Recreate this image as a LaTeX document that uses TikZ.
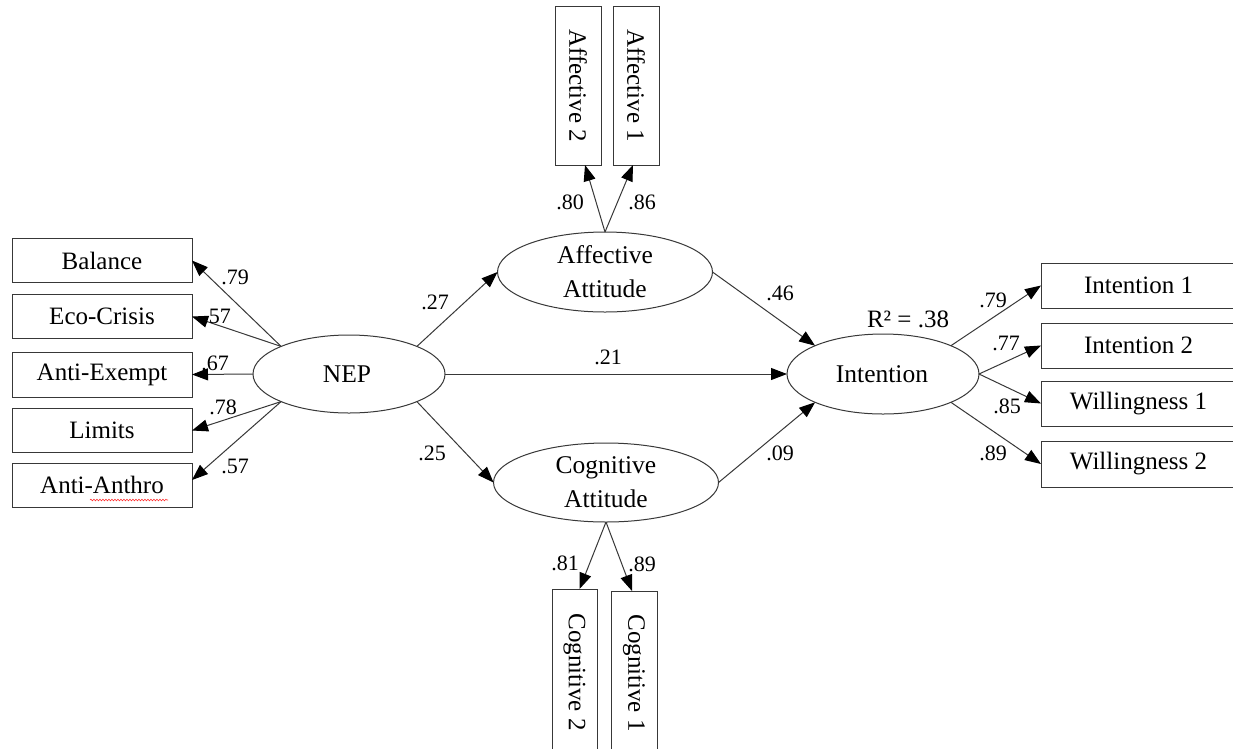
\documentclass[tikz,border=0pt]{standalone}
\usepackage{fontspec}
\setmainfont{Liberation Serif}
\usetikzlibrary{arrows.meta,shapes.geometric,calc,decorations.pathmorphing}
\begin{document}
\begin{tikzpicture}[x=1pt,y=-1pt,
  line/.style={draw=black!78, line width=1pt},
  arr/.style={line, -{Triangle[length=16pt,width=12pt,color=black,fill=black]}},
  obs/.style={draw=black!78, line width=1pt, rectangle, inner sep=0pt, outer sep=0pt, font=\fontsize{25}{30}\selectfont},
  lat/.style={draw=black!78, line width=1pt, ellipse, inner sep=0pt, outer sep=0pt},
  lattext/.style={align=center, font=\fontsize{25.5}{34}\selectfont, inner sep=0pt},
  coef/.style={font=\fontsize{22}{26}\selectfont, inner sep=0pt},
]
\useasboundingbox (0,0) rectangle (1233,748);
\fill[white] (0,0) rectangle (1233,748);
\clip (0,0) rectangle (1233,748);

% latent variables
\node[lat, minimum width=192pt, minimum height=78pt] (nep) at (349,374) {};
\node[lattext] (nepT) at (347,374) {NEP};
\node[lat, minimum width=215pt, minimum height=80pt] (aff) at (605,272) {};
\node[lattext] (affT) at (605,272) {Affective\\Attitude};
\node[lat, minimum width=225pt, minimum height=79pt] (cog) at (606,482.5) {};
\node[lattext] (cogT) at (606,482.5) {Cognitive\\Attitude};
\node[lat, minimum width=192pt, minimum height=80pt] (int) at (883,374) {};
\node[lattext] (intT) at (882,374) {Intention};

% left indicators
\node[obs, minimum width=180pt, minimum height=44pt] (bal) at (102,260.5) {Balance};
\node[obs, minimum width=180pt, minimum height=44pt] (eco) at (102,316.5) {Eco-Crisis};
\node[obs, minimum width=180pt, minimum height=45pt] (ae) at (102,374.5) {Anti-Exempt};
\node[obs, minimum width=180pt, minimum height=44pt] (lim) at (102,430.5) {Limits};
\node[obs, minimum width=180pt, minimum height=44pt] (aa) at (102,485) {Anti-Anthro};
\draw[red!80, line width=0.6pt, decorate, decoration={snake, amplitude=0.8pt, segment length=3pt}] (90,500) -- (168,500);

% top indicators
\node[obs, minimum width=46pt, minimum height=159pt] (aff2) at (578,85.5) {\rotatebox{-90}{Affective 2}};
\node[obs, minimum width=46pt, minimum height=159pt] (aff1) at (636,85.5) {\rotatebox{-90}{Affective 1}};

% bottom indicators
\node[obs, minimum width=45pt, minimum height=166pt] (cog2) at (574.5,672) {\rotatebox{-90}{Cognitive 2}};
\node[obs, minimum width=46pt, minimum height=164pt] (cog1) at (634,673) {\rotatebox{-90}{Cognitive 1}};

% right indicators
\node[obs, minimum width=195pt, minimum height=45pt] (int1) at (1138.5,285.5) {Intention 1};
\node[obs, minimum width=195pt, minimum height=45pt] (int2) at (1138.5,345.5) {Intention 2};
\node[obs, minimum width=195pt, minimum height=45pt] (will1) at (1138.5,403.5) {Willingness 1};
\node[obs, minimum width=195pt, minimum height=46pt] (will2) at (1138.5,464) {Willingness 2};

% connectors
\draw[arr] (nep.north west) -- (bal.east);
\draw[arr] (nep.north west) -- (eco.east);
\draw[arr] (nep.west) -- (ae.east);
\draw[arr] (nep.south west) -- (lim.east);
\draw[arr] (nep.south west) -- ($(aa.east)+(0,-5)$);
\draw[arr] (nep.north east) -- (aff.west);
\draw[arr] (nep.east) -- (int.west);
\draw[arr] (nep.south east) -- (cog.west);
\draw[arr] (aff.east) -- (int.north west);
\draw[arr] (cog.east) -- (int.south west);
\draw[arr] (aff.north) -- ($(aff2.south)+(7,0)$);
\draw[arr] (aff.north) -- ($(aff1.south)+(-3,0)$);
\draw[arr] (cog.south) -- ($(cog2.north)+(5,0)$);
\draw[arr] (cog.south) -- ($(cog1.north)+(-2,0)$);
\draw[arr] (int.north east) -- (int1.west);
\draw[arr] (int.east) -- (int2.west);
\draw[arr] (int.east) -- (will1.west);
\draw[arr] (int.south east) -- (will2.west);

% coefficients
\node[coef] (l1) at (235,277) {.79};
\node[coef] (l2) at (217,316) {.57};
\node[coef] (l3) at (215,363) {.67};
\node[coef] (l4) at (223,407) {.78};
\node[coef] (l5) at (235,466) {.57};
\node[coef] (l6) at (435,302) {.27};
\node[coef] (l7) at (608,357) {.21};
\node[coef] (l8) at (432,453) {.25};
\node[coef] (l9) at (780,293) {.46};
\node[coef] (l10) at (780,453) {.09};
\node[coef] (l11) at (570,202) {.80};
\node[coef] (l12) at (642,202) {.86};
\node[coef] (l13) at (565,563) {.81};
\node[coef] (l14) at (642,564) {.89};
\node[coef] (l15) at (993,300) {.79};
\node[coef] (l16) at (1006,343) {.77};
\node[coef] (l17) at (1007,406) {.85};
\node[coef] (l18) at (993,453) {.89};
\node[coef, font=\fontsize{25}{30}\selectfont] (r2) at (908,319) {R² = .38};
\end{tikzpicture}
\end{document}
